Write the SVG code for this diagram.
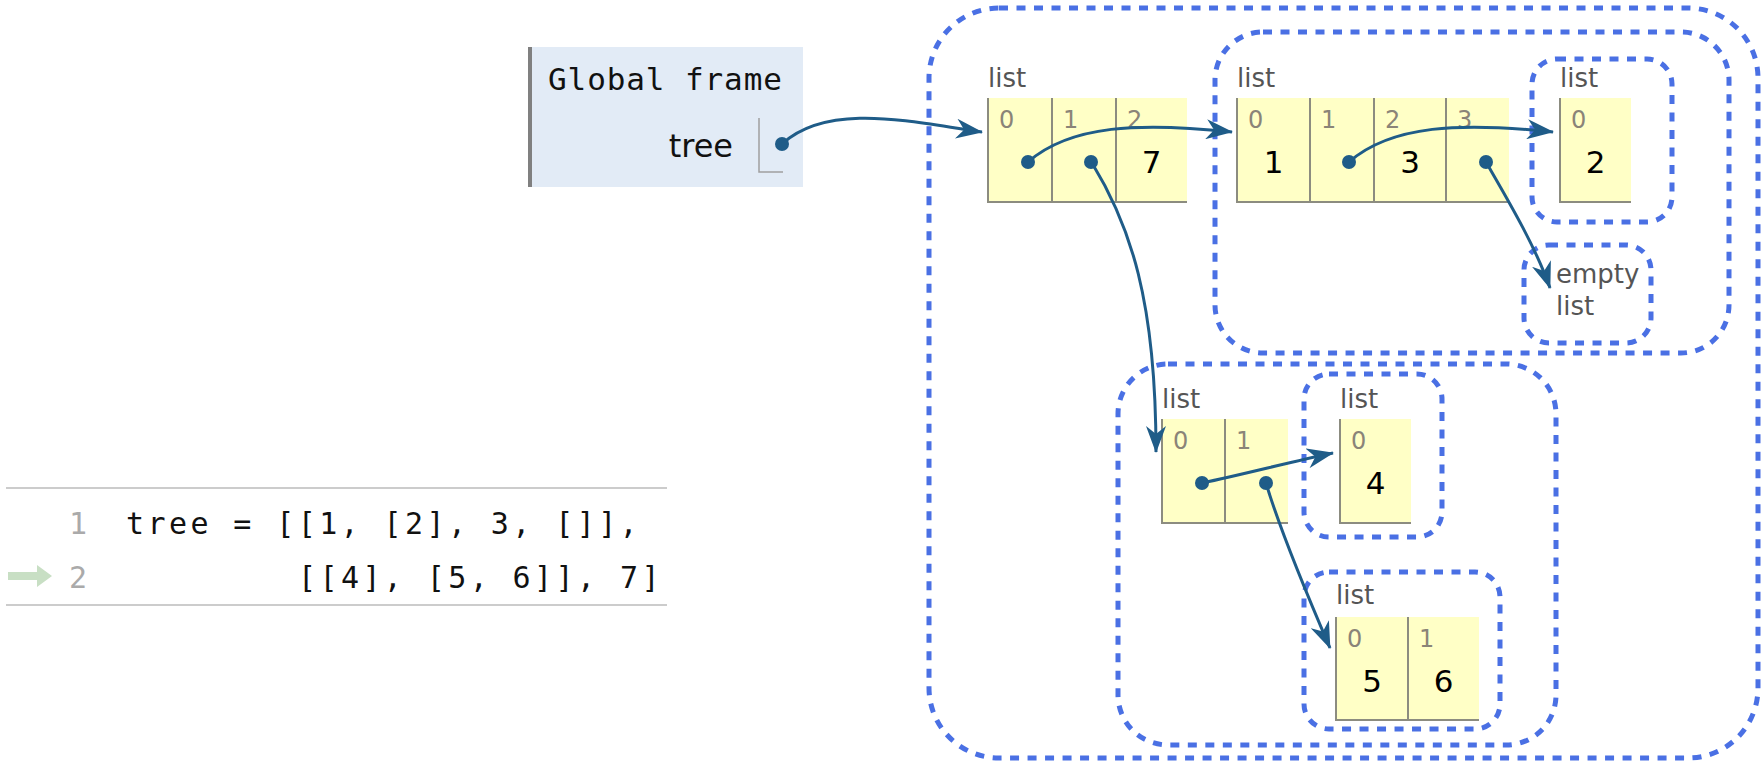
<svg xmlns="http://www.w3.org/2000/svg" width="1761" height="764" viewBox="0 0 1761 764">
  <defs>
    <style>
      .frame-bg { fill: #e2ebf6; }
      .frame-bar { fill: #808080; }
      .frame-title { font-family: "DejaVu Sans Mono", "Liberation Mono", monospace; font-size: 31px; letter-spacing: 0.9px; fill: #111; }
      .var-name { font-family: "DejaVu Sans", Verdana, sans-serif; font-size: 32px; fill: #111; }
      .ptr-cell { fill: none; stroke: #a0a0a0; stroke-width: 1.5; }
      .group { fill: none; stroke: #4a70e4; stroke-width: 5; stroke-dasharray: 9 8.5; }
      .cell { fill: #ffffc6; }
      .cell-line { fill: none; stroke: #8c8c80; stroke-width: 2; }
      .type { font-family: "DejaVu Sans", Verdana, sans-serif; font-size: 26px; fill: #555; }
      .idx { font-family: "DejaVu Sans", Verdana, sans-serif; font-size: 24px; fill: #8a8478; }
      .val { font-family: "DejaVu Sans", Verdana, sans-serif; font-size: 31px; fill: #000; text-anchor: middle; }
      .dot { fill: #1f5c88; }
      .edge { fill: none; stroke: #1f5c88; stroke-width: 3; marker-end: url(#head); }
      .code { font-family: "DejaVu Sans Mono", "Liberation Mono", monospace; font-size: 30px; letter-spacing: 3.4px; fill: #111; }
      .lineno { font-family: "DejaVu Sans Mono", "Liberation Mono", monospace; font-size: 30px; fill: #aaa; text-anchor: end; }
      .rule { stroke: #cccccc; stroke-width: 2; }
    </style>
    <marker id="head" viewBox="0 0 27 20" markerWidth="27" markerHeight="20" refX="26" refY="10" orient="auto" markerUnits="userSpaceOnUse">
      <path d="M0,0 L27,10 L0,20 L8,10 Z" fill="#1f5c88"/>
    </marker>
  </defs>

  <!-- source code panel -->
  <g id="code">
    <line class="rule" x1="6" y1="488" x2="667" y2="488"/>
    <line class="rule" x1="6" y1="605" x2="667" y2="605"/>
    <text class="lineno" x="87" y="534">1</text>
    <text class="lineno" x="87" y="588">2</text>
    <path d="M8,572 L37,572 L37,565 L52,576 L37,587 L37,580 L8,580 Z" fill="#c8dfc4"/>
    <text class="code" x="126" y="534">tree = [[1, [2], 3, []],</text>
    <text class="code" x="298" y="588">[[4], [5, 6]], 7]</text>
  </g>

  <!-- global frame -->
  <g id="global-frame">
    <rect class="frame-bg" x="528" y="47" width="275" height="140"/>
    <rect class="frame-bar" x="528" y="47" width="4" height="140"/>
    <text class="frame-title" x="548" y="90">Global frame</text>
    <text class="var-name" x="733" y="157" text-anchor="end">tree</text>
    <path class="ptr-cell" d="M759,118 L759,172 L783,172"/>
    <circle class="dot" cx="782" cy="144" r="7"/>
  </g>

  <!-- nesting outlines -->
  <g id="groups">
    <rect id="group-tree" class="group" x="929" y="8" width="829" height="750" rx="70" ry="70"/>
    <rect id="group-first" class="group" x="1215" y="32" width="514" height="321" rx="48" ry="48"/>
    <rect id="group-two" class="group" x="1532" y="59" width="140" height="163" rx="25" ry="25"/>
    <rect id="group-empty" class="group" x="1524" y="245" width="127" height="98" rx="25" ry="25"/>
    <rect id="group-second" class="group" x="1118" y="364" width="438" height="381" rx="50" ry="50"/>
    <rect id="group-four" class="group" x="1304" y="374" width="138" height="163" rx="25" ry="25"/>
    <rect id="group-fivesix" class="group" x="1304" y="572" width="196" height="157" rx="25" ry="25"/>
  </g>

  <!-- [[...], [...], 7] -->
  <g id="list-tree">
    <text class="type" x="988" y="87">list</text>
    <rect class="cell" x="988" y="98" width="199" height="104"/>
    <path class="cell-line" d="M988,98 V202 H1187 M1052,98 V202 M1116,98 V202"/>
    <text class="idx" x="999" y="128">0</text>
    <text class="idx" x="1063" y="128">1</text>
    <text class="idx" x="1127" y="128">2</text>
    <text class="val" x="1151.5" y="173">7</text>
    <circle class="dot" cx="1028" cy="162" r="7"/>
    <circle class="dot" cx="1091" cy="162" r="7"/>
  </g>

  <!-- [1, [2], 3, []] -->
  <g id="list-first">
    <text class="type" x="1237" y="87">list</text>
    <rect class="cell" x="1237" y="98" width="272" height="104"/>
    <path class="cell-line" d="M1237,98 V202 H1509 M1310,98 V202 M1374,98 V202 M1446,98 V202"/>
    <text class="idx" x="1248" y="128">0</text>
    <text class="idx" x="1321" y="128">1</text>
    <text class="idx" x="1385" y="128">2</text>
    <text class="idx" x="1457" y="128">3</text>
    <text class="val" x="1273.5" y="173">1</text>
    <text class="val" x="1410" y="173">3</text>
    <circle class="dot" cx="1349" cy="162" r="7"/>
    <circle class="dot" cx="1486" cy="162" r="7"/>
  </g>

  <!-- [2] -->
  <g id="list-two">
    <text class="type" x="1560" y="87">list</text>
    <rect class="cell" x="1560" y="98" width="71" height="104"/>
    <path class="cell-line" d="M1560,98 V202 H1631"/>
    <text class="idx" x="1571" y="128">0</text>
    <text class="val" x="1595.5" y="173">2</text>
  </g>

  <!-- [] -->
  <g id="list-empty">
    <text class="type" x="1556" y="283">empty</text>
    <text class="type" x="1556" y="315">list</text>
  </g>

  <!-- [[4], [5, 6]] -->
  <g id="list-second">
    <text class="type" x="1162" y="408">list</text>
    <rect class="cell" x="1162" y="419" width="126" height="104"/>
    <path class="cell-line" d="M1162,419 V523 H1288 M1225,419 V523"/>
    <text class="idx" x="1173" y="449">0</text>
    <text class="idx" x="1236" y="449">1</text>
    <circle class="dot" cx="1202" cy="483" r="7"/>
    <circle class="dot" cx="1266" cy="483" r="7"/>
  </g>

  <!-- [4] -->
  <g id="list-four">
    <text class="type" x="1340" y="408">list</text>
    <rect class="cell" x="1340" y="419" width="71" height="104"/>
    <path class="cell-line" d="M1340,419 V523 H1411"/>
    <text class="idx" x="1351" y="449">0</text>
    <text class="val" x="1375.5" y="494">4</text>
  </g>

  <!-- [5, 6] -->
  <g id="list-fivesix">
    <text class="type" x="1336" y="604">list</text>
    <rect class="cell" x="1336" y="617" width="143" height="103"/>
    <path class="cell-line" d="M1336,617 V720 H1479 M1408,617 V720"/>
    <text class="idx" x="1347" y="647">0</text>
    <text class="idx" x="1419" y="647">1</text>
    <text class="val" x="1372" y="692">5</text>
    <text class="val" x="1443.5" y="692">6</text>
  </g>

  <!-- references -->
  <g id="connectors">
    <path class="edge" d="M782,144 C830,100 920,124 982,132"/>
    <path class="edge" d="M1028,162 C1070,125 1140,122 1232,132"/>
    <path class="edge" d="M1349,162 C1391,125 1461,122 1553,132"/>
    <path class="edge" d="M1486,162 C1505,195 1535,245 1550,288"/>
    <path class="edge" d="M1092,163 C1130,225 1156,300 1156,452"/>
    <path class="edge" d="M1202,483 C1245,474 1290,462 1333,453"/>
    <path class="edge" d="M1266,483 C1280,530 1305,590 1330,648"/>
  </g>
</svg>
